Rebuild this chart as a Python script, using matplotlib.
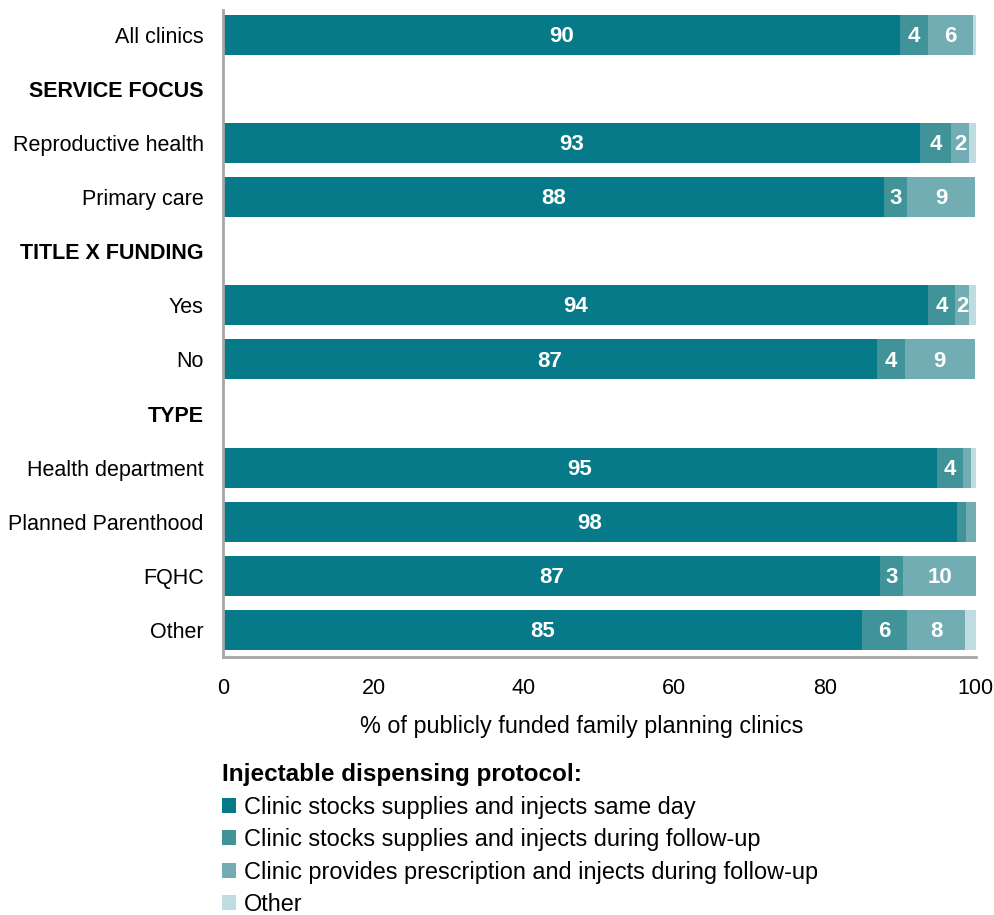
import matplotlib.pyplot as plt
from matplotlib.patches import Patch
import numpy as np

plt.rcParams['font.family'] = ['Liberation Sans', 'DejaVu Sans']

rows = ['All clinics', 'SERVICE FOCUS', 'Reproductive health', 'Primary care',
        'TITLE X FUNDING', 'Yes', 'No', 'TYPE', 'Health department',
        'Planned Parenthood', 'FQHC', 'Other']
headers = ['SERVICE FOCUS', 'TITLE X FUNDING', 'TYPE']

series = ['Clinic stocks supplies and injects same day',
          'Clinic stocks supplies and injects during follow-up',
          'Clinic provides prescription and injects during follow-up',
          'Other']
colors = ['#077a8a', '#3f9399', '#72adb3', '#bfdde1']

# header rows carry no data (zeros)
same_day  = [90.0, 0, 92.6, 87.9, 0, 93.7, 86.9, 0, 94.9, 97.6, 87.4, 84.9]
follow_up = [3.7, 0, 4.2, 3.0, 0, 3.6, 3.7, 0, 3.5, 1.2, 3.0, 6.0]
rx        = [6.0, 0, 2.4, 9.1, 0, 1.9, 9.4, 0, 1.1, 1.3, 9.7, 7.8]
other     = [0.4, 0, 0.9, 0, 0, 0.9, 0, 0, 0.6, 0, 0, 1.4]

data = np.array([same_day, follow_up, rx, other])

fig = plt.figure(figsize=(9.94, 9.15), dpi=100)
ax = fig.add_axes([223 / 994, 1 - 657 / 915, 753 / 994, 647 / 915])

y = np.arange(len(rows))
left = np.zeros(len(rows))
for vals, col, name in zip(data, colors, series):
    ax.barh(y, vals, left=left, height=0.74, color=col, label=name)
    for yi, (l, v) in enumerate(zip(left, vals)):
        if v >= 1.5:
            ax.text(l + v / 2, yi + 0.03, f'{v:.0f}', ha='center', va='center',
                    color='white', fontsize=16, fontweight='bold')
    left += vals

ax.set_ylim(11.5, -0.46)
ax.set_xlim(0, 100.1)
ax.set_yticks(y)
ax.set_yticklabels(rows, fontsize=15.5)
for lab in ax.get_yticklabels():
    if lab.get_text() in headers:
        lab.set_fontweight('bold')
ax.set_xticks([0, 20, 40, 60, 80, 100])
ax.tick_params(axis='both', length=0)
ax.tick_params(axis='y', pad=14)
ax.tick_params(axis='x', pad=15, labelsize=15.5)
ax.set_xlabel('% of publicly funded family planning clinics', fontsize=16.8)
ax.xaxis.set_label_coords(0.477, -0.089)

for side in ['top', 'right']:
    ax.spines[side].set_visible(False)
for side in ['left', 'bottom']:
    ax.spines[side].set_color('#a6a6a6')
    ax.spines[side].set_linewidth(2)

handles = [Patch(facecolor=c, edgecolor='none') for c in colors]
leg = fig.legend(handles, series, loc='upper left',
                 bbox_to_anchor=(213 / 994, 1 - 754 / 915),
                 frameon=False, fontsize=16.9, handlelength=0.6, handleheight=0.6,
                 handletextpad=0.3, labelspacing=0.4,
                 title='Injectable dispensing protocol:',
                 title_fontproperties={'weight': 'bold', 'size': 17.5},
                 alignment='left', borderaxespad=0)

fig.savefig('out.png', dpi=100, facecolor='white')
